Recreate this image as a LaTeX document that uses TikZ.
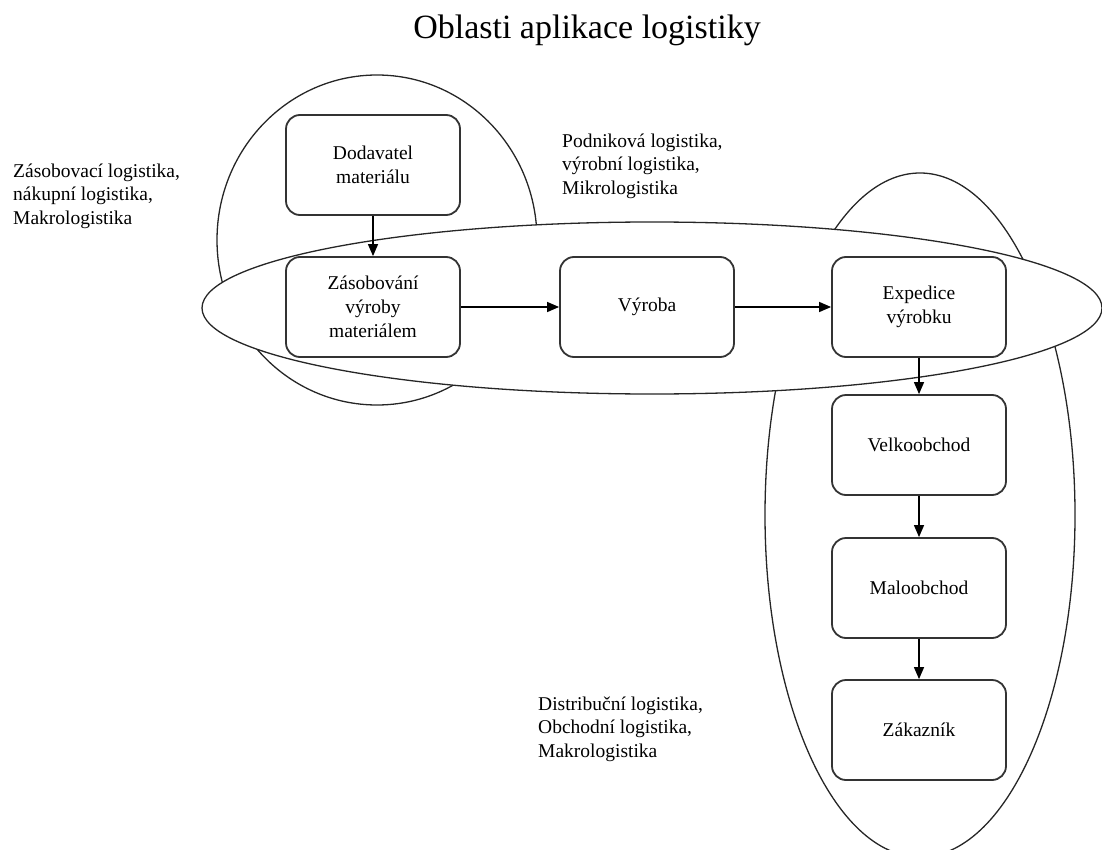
\documentclass[tikz,border=0pt]{standalone}
\usepackage{fontspec}
\setmainfont{Liberation Serif}
\usetikzlibrary{arrows.meta}
\tikzset{
  stepbox/.style={draw=black!80, line width=1.8pt, fill=white, rounded corners=14pt,
    minimum width=174pt, minimum height=100pt, inner sep=0pt, align=center,
    font=\fontsize{19.5}{24}\selectfont},
  area/.style={draw=black!85, line width=1.3pt},
  flow/.style={draw=black, line width=1.3pt, -{Triangle[length=12pt,width=10pt]}},
  note/.style={anchor=north west, inner sep=0pt, align=left,
    font=\fontsize{19.5}{23.5}\selectfont},
}
\begin{document}
\begin{tikzpicture}[x=1pt,y=-1pt]
\useasboundingbox (0,0) rectangle (1102,850);

% supply area and distribution area
\draw[area] (377,240) ellipse [x radius=160, y radius=165];
\draw[area] (920,515) ellipse [x radius=155, y radius=342];
% company area, drawn over the other two
\draw[area, fill=white] (652,308) ellipse [x radius=450, y radius=86];

\node[anchor=base, font=\fontsize{34}{40}\selectfont] (title) at (587,39) {Oblasti aplikace logistiky};

\node[stepbox] (dod) at (373,165) {Dodavatel\\materiálu};
\node[stepbox] (zas) at (373,307) {Zásobování\\výroby\\materiálem};
\node[stepbox] (vyr) at (647,307) {Výroba};
\node[stepbox] (exp) at (919,307) {Expedice\\výrobku};
\node[stepbox] (vel) at (919,445) {Velkoobchod};
\node[stepbox] (mal) at (919,588) {Maloobchod};
\node[stepbox] (zak) at (919,730) {Zákazník};

\draw[flow] (dod) -- (zas);
\draw[flow] (zas) -- (vyr);
\draw[flow] (vyr) -- (exp);
\draw[flow] (exp) -- (vel);
\draw[flow] (vel) -- (mal);
\draw[flow] (mal) -- (zak);

\node[note] (zasl) at (13,163.5) {Zásobovací logistika,\\nákupní logistika,\\Makrologistika};
\node[note] (podl) at (562,133.5) {Podniková logistika,\\výrobní logistika,\\Mikrologistika};
\node[note] (disl) at (538,696.5) {Distribuční logistika,\\Obchodní logistika,\\Makrologistika};
\end{tikzpicture}
\end{document}
